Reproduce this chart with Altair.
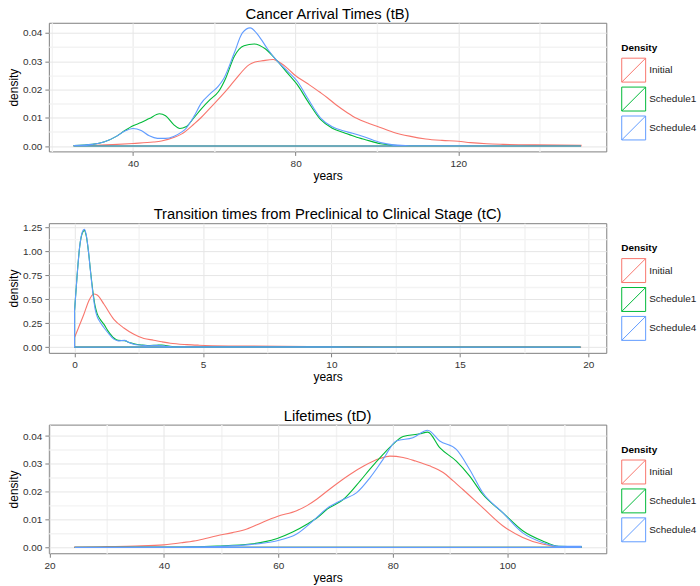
import altair as alt
import pandas as pd

SERIES = ["Initial", "Schedule1", "Schedule4"]
COLORS = ["#F8766D", "#00BA38", "#619CFF"]

# ---- Panel 1: Cancer Arrival Times (tB) ----
tB_initial_x = [25.5, 30, 35, 40, 45, 47, 50, 52, 55, 56.7, 59, 62.8, 65, 68.6, 70, 72, 74.5, 76.3,
                78, 79.6, 82.9, 86, 87.8, 90, 92.7, 95, 97.6, 100, 104, 108, 112, 116, 120, 123, 127,
                131, 139, 150.2]
tB_initial_y = [0.0001, 0.0002, 0.0005, 0.0009, 0.0014, 0.0018, 0.003, 0.0043, 0.0078, 0.0100, 0.0135,
                0.0194, 0.0232, 0.0288, 0.0297, 0.0302, 0.0306, 0.0294, 0.0275, 0.0253, 0.0221, 0.0190,
                0.0171, 0.0145, 0.0118, 0.0098, 0.0082, 0.0070, 0.0049, 0.0035, 0.0025, 0.0020, 0.0017,
                0.0012, 0.0008, 0.0006, 0.0004, 0.0003]
tB_s1_x = [25.5, 30, 33, 36, 38, 40, 42, 44, 46.5, 48, 50, 51.5, 53, 55, 56.7, 59, 61, 62.8, 64.9,
           67.3, 69.8, 72.6, 75.5, 78, 80.4, 83, 86.1, 89, 91.9, 95, 96.8, 100.9, 105, 110, 150.2]
tB_s1_y = [0.0002, 0.0006, 0.0015, 0.0035, 0.0055, 0.0072, 0.0083, 0.0097, 0.0114, 0.0107, 0.0076,
           0.0062, 0.0068, 0.0100, 0.0130, 0.0165, 0.0192, 0.0240, 0.0317, 0.0355, 0.0361, 0.0343,
           0.0300, 0.0258, 0.0217, 0.0158, 0.0094, 0.0063, 0.0047, 0.0031, 0.0024, 0.0008, 0.0002,
           0.00005, 0.0]
tB_s4_x = [25.5, 30, 33, 36, 38, 40, 42, 44, 46, 48, 50, 52, 53, 55, 56.7, 59, 61, 62.4, 64.9, 66.9,
           68.8, 71, 73, 75.5, 78, 80.4, 83, 86.1, 89, 91.9, 94, 96.8, 100.9, 104, 108, 150.2]
tB_s4_y = [0.0002, 0.0006, 0.0015, 0.0035, 0.0053, 0.0062, 0.0055, 0.0036, 0.0027, 0.0027, 0.0034,
           0.0050, 0.0062, 0.0105, 0.0150, 0.0185, 0.0212, 0.0241, 0.0329, 0.0400, 0.0418, 0.0388,
           0.0345, 0.0300, 0.0265, 0.0229, 0.0168, 0.0100, 0.0068, 0.0053, 0.0045, 0.0033, 0.0012,
           0.0004, 0.0001, 0.0]

# ---- Panel 2: Transition times (tC) ----
tC_initial_x = [0, 0.15, 0.36, 0.55, 0.75, 0.88, 1.14, 1.53, 1.92, 2.31, 2.7, 3.08, 3.4, 3.73, 4.37,
                4.83, 6, 8, 10, 12, 14, 17, 19.7]
tC_initial_y = [0.10, 0.20, 0.34, 0.48, 0.555, 0.545, 0.45, 0.29, 0.20, 0.135, 0.09, 0.072, 0.055,
                0.04, 0.026, 0.02, 0.012, 0.008, 0.005, 0.004, 0.003, 0.002, 0.001]
tC_s1_x = [0, 0.1, 0.2, 0.3, 0.38, 0.45, 0.55, 0.62, 0.72, 0.8, 0.88, 1.0, 1.14, 1.3, 1.53, 1.7,
           1.95, 2.1, 2.31, 2.6, 2.83, 3.2, 3.4, 3.8, 4.5, 6, 8, 10, 12, 15, 19.7]
tC_s1_y = [0.38, 0.75, 1.05, 1.19, 1.22, 1.17, 0.98, 0.80, 0.57, 0.43, 0.35, 0.29, 0.24, 0.17, 0.095,
           0.07, 0.068, 0.05, 0.035, 0.022, 0.016, 0.02, 0.022, 0.006, 0.002, 0.003, 0.002, 0.002,
           0.001, 0.001, 0.0]
tC_s4_x = [0, 0.1, 0.2, 0.3, 0.38, 0.45, 0.55, 0.62, 0.72, 0.8, 0.88, 1.0, 1.14, 1.3, 1.53, 1.7,
           1.95, 2.1, 2.31, 2.6, 2.83, 3.2, 3.5, 3.8, 4.5, 6, 8, 10, 12, 15, 19.7]
tC_s4_y = [0.38, 0.75, 1.05, 1.20, 1.23, 1.18, 0.98, 0.79, 0.55, 0.40, 0.32, 0.26, 0.205, 0.15, 0.083,
           0.065, 0.07, 0.05, 0.03, 0.02, 0.014, 0.018, 0.012, 0.004, 0.002, 0.003, 0.002, 0.002,
           0.001, 0.001, 0.0]

# ---- Panel 3: Lifetimes (tD) ----
tD_initial_x = [24.4, 30, 35, 40, 43.5, 46, 49.3, 52, 54.5, 57, 59.8, 63.2, 65, 66.7, 69, 72.5, 75,
                77.7, 79.5, 81.8, 84, 86.4, 88.8, 90.5, 92.2, 95.7, 99.2, 102.7, 106.1, 109.6, 112.9]
tD_initial_y = [0.0001, 0.0003, 0.0005, 0.0009, 0.0018, 0.0026, 0.0042, 0.0053, 0.0066, 0.0088,
                0.0111, 0.0132, 0.0150, 0.0173, 0.0210, 0.0262, 0.0293, 0.0319, 0.0328, 0.0323,
                0.0310, 0.0293, 0.0269, 0.0240, 0.0209, 0.0143, 0.0078, 0.0036, 0.0012, 0.0002,
                0.0001]
tD_s1_x = [24.4, 40, 45, 49.3, 55.1, 57.5, 59.8, 62.5, 65, 67, 68.5, 71.4, 74.3, 76, 78.3, 80, 81.8,
           84.7, 86.1, 88.2, 91.1, 93.4, 95.7, 99.2, 102.7, 106.1, 109, 112.9]
tD_s1_y = [0.0, 0.0001, 0.0002, 0.0005, 0.0012, 0.0020, 0.0032, 0.0055, 0.0083, 0.0110, 0.0137,
           0.0173, 0.0239, 0.0281, 0.0334, 0.0370, 0.0398, 0.0408, 0.0414, 0.0358, 0.0310, 0.0257,
           0.0191, 0.0125, 0.0060, 0.0024, 0.0004, 0.0003]
tD_s4_x = [24.4, 40, 45, 50, 55, 57.5, 59.8, 63.2, 66.1, 68.5, 71.4, 73.7, 76, 78.3, 80.6, 83.5,
           86.1, 88.2, 91.1, 93.4, 95.7, 99.2, 102.7, 106.1, 109, 112.9]
tD_s4_y = [0.0, 0.0001, 0.0002, 0.0004, 0.0010, 0.0016, 0.0024, 0.0048, 0.0096, 0.0140, 0.0173,
           0.0197, 0.0250, 0.0316, 0.0382, 0.0394, 0.0421, 0.0382, 0.0352, 0.0281, 0.0197, 0.0125,
           0.0052, 0.0018, 0.0004, 0.0004]

LEGEND_PATH = "M-1,-1L1,-1L1,1L-1,1Z M-1,1L1,-1"
MAJOR_GRID = "#E6E6E6"
MINOR_GRID = "#F3F3F3"


def frame(xs_list, ys_list):
    rows = []
    for name, xs, ys in zip(SERIES, xs_list, ys_list):
        for x, y in zip(xs, ys):
            rows.append({"series": name, "years": x, "density": y})
    return pd.DataFrame(rows)


def axis(major, minor, fmt, title, orient):
    test = "indexof(" + str(list(minor)) + ", datum.value) >= 0"
    return alt.Axis(
        values=sorted(list(major) + list(minor)),
        labelExpr="(" + test + ") ? '' : format(datum.value, '" + fmt + "')",
        title=title, orient=orient, grid=True, labelFlush=False,
        gridColor={"condition": {"test": test, "value": MINOR_GRID}, "value": MAJOR_GRID},
        gridWidth={"condition": {"test": test, "value": 1.4}, "value": 1},
        tickOpacity={"condition": {"test": test, "value": 0}, "value": 1},
    )


def panel(df, title, xdom, ydom, xmajor, xminor, ymajor, yminor, yfmt, h):
    xs = alt.Scale(domain=xdom, nice=False, zero=False)
    ys = alt.Scale(domain=ydom, nice=False, zero=False)
    curves = alt.Chart(df).mark_area(
        fill="transparent", strokeWidth=1.1, interpolate="monotone"
    ).encode(
        x=alt.X("years:Q", scale=xs, axis=axis(xmajor, xminor, "d", "years", "bottom")),
        y=alt.Y("density:Q", scale=ys, axis=axis(ymajor, yminor, yfmt, "density", "left")),
        y2=alt.datum(0),
        stroke=alt.Stroke(
            "series:N",
            scale=alt.Scale(domain=SERIES, range=COLORS),
            legend=alt.Legend(
                title="Density", orient="none", legendX=574, legendY=20,
                symbolType=LEGEND_PATH, symbolSize=576, symbolStrokeWidth=1,
                symbolFillColor="transparent", rowPadding=0, labelFontSize=10,
                titleFontSize=10, titleFontWeight="bold", labelOffset=3, titlePadding=5,
                labelColor="#222222", titleColor="#000000",
            ),
        ),
    )
    return curves.properties(
        width=559, height=h,
        title=alt.TitleParams(title, fontSize=14.8, fontWeight="normal", anchor="middle",
                              baseline="bottom", offset=-14, color="#000000"),
    )


p1 = panel(frame([tB_initial_x, tB_s1_x, tB_s4_x], [tB_initial_y, tB_s1_y, tB_s4_y]),
           "Cancer Arrival Times (tB)", [19.3, 156.4], [-0.0019, 0.0436],
           [40, 80, 120], [20, 60, 100, 140], [0, 0.01, 0.02, 0.03, 0.04],
           [0.005, 0.015, 0.025, 0.035], ".2f", 129)
p2 = panel(frame([tC_initial_x, tC_s1_x, tC_s4_x], [tC_initial_y, tC_s1_y, tC_s4_y]),
           "Transition times from Preclinical to Clinical Stage (tC)", [-1.0, 20.7], [-0.06, 1.295],
           [0, 5, 10, 15, 20], [2.5, 7.5, 12.5, 17.5], [0, 0.25, 0.5, 0.75, 1.0, 1.25],
           [0.125, 0.375, 0.625, 0.875, 1.125], ".2f", 130)
p3 = panel(frame([tD_initial_x, tD_s1_x, tD_s4_x], [tD_initial_y, tD_s1_y, tD_s4_y]),
           "Lifetimes (tD)", [19.9, 117.3], [-0.0021, 0.0441],
           [20, 40, 60, 80, 100], [30, 50, 70, 90, 110], [0, 0.01, 0.02, 0.03, 0.04],
           [0.005, 0.015, 0.025, 0.035], ".2f", 129)

chart = alt.vconcat(p1, p2, p3, spacing=72, bounds="flush").resolve_scale(
    stroke="independent").resolve_legend(stroke="independent").properties(
    padding={"left": 7, "top": 5, "right": 2, "bottom": 2}
).configure(font="Liberation Sans").configure_view(
    stroke="#7F7F7F", strokeWidth=1
).configure_axis(
    labelFontSize=10, labelColor="#333333", titleFontSize=12, titleFontWeight="normal",
    titleColor="#000000", tickColor="#7F7F7F", tickSize=4, labelPadding=3, titlePadding=2,
    domain=False,
)

chart.save("out.html", embed_options={"renderer": "svg", "actions": False})
